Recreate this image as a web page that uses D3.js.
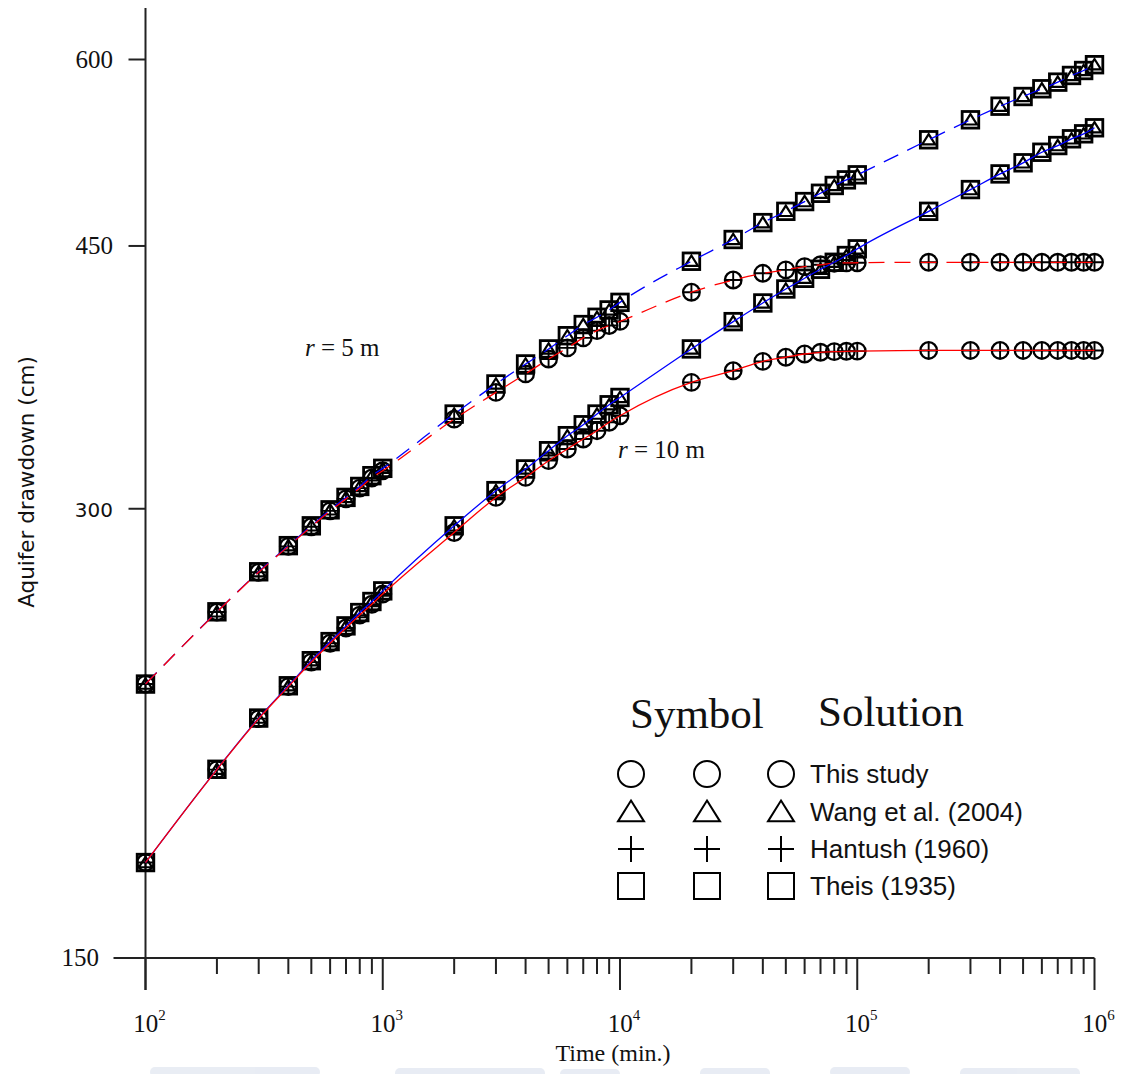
<!DOCTYPE html>
<html>
<head>
<meta charset="utf-8">
<script src="https://cdn.jsdelivr.net/npm/d3@7"></script>
<style>
  html, body { margin: 0; padding: 0; background: #fff; }
  svg { display: block; }
</style>
</head>
<body>
<svg id="chart" width="1123" height="1074"></svg>
<script>
// ---------------- DATA ----------------
const times = [100,200,300,400,500,600,700,800,900,1000,
  2000,3000,4000,5000,6000,7000,8000,9000,10000,
  20000,30000,40000,50000,60000,70000,80000,90000,100000,
  200000,300000,400000,500000,600000,700000,800000,900000,1000000];

// r = 5 m
const theisR5 = [228.9,255.9,272.2,283.4,292.2,299.5,305.3,310.5,315.7,319.3,
  347.2,363.7,375.1,383.9,391.8,398.6,403.1,407.7,412.5,
  439.5,454.5,466.5,474.7,481.9,488.1,494.0,498.3,502.2,
  530.1,546.7,558.3,566.7,573.5,579.4,585.4,589.9,595.2];
const wangR5 = [228.9,255.9,272.2,283.4,292.2,299.5,305.3,310.5,315.7,319.3,
  347.2,363.7,375.1,383.9,391.8,398.6,403.1,407.7,412.5,
  439.5,454.5,466.5,474.7,481.9,488.1,494.0,498.3,502.2,
  530.1,546.7,558.3,566.7,573.5,579.4,585.4,589.9,595.2];
const thisStudyR5 = [228.9,255.8,272.0,283.1,291.8,299.0,304.6,309.7,314.6,318.1,
  344.5,359.0,369.4,378.0,384.5,390.5,394.9,398.0,400.6,
  419.0,427.0,431.4,433.7,435.9,437.1,438.2,438.4,438.5,
  438.8,438.8,438.8,438.8,438.8,438.8,438.8,438.8,438.8];
const hantushR5 = [228.9,255.8,272.0,283.1,291.8,299.0,304.6,309.7,314.6,318.1,
  344.5,359.0,369.4,378.0,384.5,390.5,394.9,398.0,400.6,
  419.0,427.0,431.4,433.7,435.9,437.1,438.2,438.4,438.5,
  438.8,438.8,438.8,438.8,438.8,438.8,438.8,438.8,438.8];

// r = 10 m
const theisR10 = [173.8,200.7,217.2,228.3,237.3,244.4,250.4,255.6,260.0,264.3,
  292.2,308.5,319.0,328.1,335.8,341.5,347.2,352.2,356.2,
  383.9,400.4,412.1,421.1,428.1,434.1,438.8,443.4,448.0,
  474.7,490.9,502.9,511.6,520.0,525.4,530.9,535.0,540.0];
const wangR10 = [173.8,200.7,217.2,228.3,237.3,244.4,250.4,255.6,260.0,264.3,
  292.2,308.5,319.0,328.1,335.8,341.5,347.2,352.2,356.2,
  383.9,400.4,412.1,421.1,428.1,434.1,438.8,443.4,448.0,
  474.7,490.9,502.9,511.6,520.0,525.4,530.9,535.0,540.0];
const thisStudyR10 = [173.8,200.6,217.0,228.0,236.8,243.8,249.6,254.6,258.9,263.0,
  289.2,305.3,314.9,323.1,329.0,334.1,338.4,342.8,346.3,
  364.6,371.2,376.6,379.0,380.9,381.9,382.3,382.5,382.6,
  383.0,383.0,383.0,383.0,383.0,383.0,383.0,383.0,383.0];
const hantushR10 = [173.8,200.6,217.0,228.0,236.8,243.8,249.6,254.6,258.9,263.0,
  289.2,305.3,314.9,323.1,329.0,334.1,338.4,342.8,346.3,
  364.6,371.2,376.6,379.0,380.9,381.9,382.3,382.5,382.6,
  383.0,383.0,383.0,383.0,383.0,383.0,383.0,383.0,383.0];

const yTicks = [150, 300, 450, 600];
const xMajorTicks = [100, 1000, 10000, 100000, 1000000];
const xMinorTicks = [200,300,400,500,600,700,800,900,
  2000,3000,4000,5000,6000,7000,8000,9000,
  20000,30000,40000,50000,60000,70000,80000,90000,
  200000,300000,400000,500000,600000,700000,800000,900000];
const legendNames = ["This study", "Wang et al. (2004)", "Hantush (1960)", "Theis (1935)"];
const legendShapes = ["circle", "triangle", "plus", "square"];

// ---------------- LAYOUT ----------------
const svg = d3.select("#chart");
const X0 = 145.5, X1 = 1094.5, Y0 = 958, Y1 = 59.5;
const x = d3.scaleLog().domain([100, 1e6]).range([X0, X1]);
const y = d3.scaleLog().domain([150, 600]).range([Y0, Y1]);
const serif = "'Liberation Serif','Times New Roman',serif";
const sans = "'Liberation Sans',Arial,sans-serif";
const ink = "#111";

// faint watermark band at the very bottom (scan artifact)
const wm = svg.append("g").attr("fill", "#d3dbea").attr("opacity", 0.5);
[[150,1067,170],[395,1068,150],[560,1069,60],[700,1068,70],[830,1067,80],[960,1068,120]]
  .forEach(([a,b,w]) => wm.append("rect").attr("x", a).attr("y", b).attr("width", w).attr("height", 10).attr("rx", 5));

// ---------------- AXES ----------------
const ax = svg.append("g").attr("stroke", "#222").attr("stroke-width", 2).attr("fill", "none");
ax.append("line").attr("x1", X0).attr("x2", X0).attr("y1", 8).attr("y2", Y0 + 32);
ax.append("line").attr("x1", X0 - 32).attr("x2", X1).attr("y1", Y0).attr("y2", Y0);
yTicks.filter(v => v !== 150).forEach(v => {
  ax.append("line").attr("x1", X0 - 17).attr("x2", X0).attr("y1", y(v)).attr("y2", y(v));
});
xMajorTicks.forEach(v => {
  ax.append("line").attr("x1", x(v)).attr("x2", x(v)).attr("y1", Y0).attr("y2", Y0 + 32);
});
xMinorTicks.forEach(v => {
  ax.append("line").attr("x1", x(v)).attr("x2", x(v)).attr("y1", Y0).attr("y2", Y0 + 16);
});

// y tick labels
yTicks.forEach(v => {
  svg.append("text").attr("x", v === 150 ? 99 : 113).attr("y", y(v) + 8)
    .attr("text-anchor", "end")
    .attr("font-family", v === 300 ? "'DejaVu Sans',sans-serif" : serif)
    .attr("font-size", v === 300 ? 20 : 25)
    .attr("fill", ink).text(v);
});
// x tick labels 10^n
xMajorTicks.forEach(v => {
  const e = Math.round(Math.log10(v));
  const t = svg.append("text").attr("x", x(v) + 4).attr("y", 1032)
    .attr("text-anchor", "middle").attr("font-family", serif)
    .attr("font-size", 25).attr("fill", ink);
  t.append("tspan").text("10");
  t.append("tspan").attr("font-size", 15).attr("dy", -12).text(e);
});

// axis titles
svg.append("text").attr("x", 613).attr("y", 1061).attr("text-anchor", "middle")
  .attr("font-family", serif).attr("font-size", 24).attr("fill", ink).text("Time (min.)");
svg.append("text").attr("transform", "translate(34,482) rotate(-90)")
  .attr("text-anchor", "middle").attr("font-family", "'DejaVu Sans',sans-serif")
  .attr("font-size", 21.5).attr("fill", ink).text("Aquifer drawdown (cm)");

// r labels
function rLabel(px, py, val) {
  const t = svg.append("text").attr("x", px).attr("y", py)
    .attr("font-family", serif).attr("font-size", 25).attr("fill", ink);
  t.append("tspan").attr("font-style", "italic").text("r");
  t.append("tspan").text(" = " + val + " m");
}
rLabel(305, 356, 5);
rLabel(618, 458, 10);

// ---------------- MARKERS ----------------
function drawShape(g, shape, cx, cy, s) {
  if (shape === "circle") {
    g.append("circle").attr("cx", cx).attr("cy", cy).attr("r", s);
  } else if (shape === "square") {
    g.append("rect").attr("x", cx - s).attr("y", cy - s).attr("width", 2 * s).attr("height", 2 * s);
  } else if (shape === "plus") {
    g.append("path").attr("d", `M${cx - s},${cy}H${cx + s}M${cx},${cy - s}V${cy + s}`);
  } else if (shape === "triangle") {
    const h = s * 1.6;
    g.append("path").attr("d", `M${cx},${cy - h * 0.55}L${cx + s},${cy + h * 0.45}L${cx - s},${cy + h * 0.45}Z`);
  }
}

const mk = svg.append("g").attr("fill", "none").attr("stroke", "#000");
function markers(vals, shape, half, sw) {
  const g = mk.append("g").attr("stroke-width", sw);
  times.forEach((t, i) => drawShape(g, shape, x(t), y(vals[i]), half));
}
markers(theisR10, "square", 8.3, 2.8);
markers(wangR10, "triangle", 6.5, 2.2);
markers(thisStudyR10, "circle", 8.3, 2.3);
markers(hantushR10, "plus", 8.3, 1.9);
markers(theisR5, "square", 8.3, 2.8);
markers(wangR5, "triangle", 6.5, 2.2);
markers(thisStudyR5, "circle", 8.3, 2.3);
markers(hantushR5, "plus", 8.3, 1.9);

// ---------------- LINES ----------------
const line = d3.line().x((d, i) => x(times[i])).y(d => y(d)).curve(d3.curveMonotoneX);
const lg = svg.append("g").attr("fill", "none").attr("stroke-width", 1.3);
lg.append("path").attr("d", line(theisR5)).attr("stroke", "#0000ff").attr("stroke-dasharray", "16,10");
lg.append("path").attr("d", line(thisStudyR5)).attr("stroke", "#ff0000").attr("stroke-dasharray", "16,10");
lg.append("path").attr("d", line(theisR10)).attr("stroke", "#0000ff");
lg.append("path").attr("d", line(thisStudyR10)).attr("stroke", "#ff0000");

// ---------------- LEGEND ----------------
svg.append("text").attr("x", 630).attr("y", 728).attr("font-family", serif)
  .attr("font-size", 43).attr("fill", ink).text("Symbol");
svg.append("text").attr("x", 818).attr("y", 726).attr("font-family", serif)
  .attr("font-size", 43).attr("fill", ink).text("Solution");
const legRowY = [774, 812, 849, 886];
const legColX = [631, 707, 781];
const lgd = svg.append("g").attr("fill", "none").attr("stroke", "#000").attr("stroke-width", 2);
legendShapes.forEach((shape, r) => {
  legColX.forEach(cx => drawShape(lgd, shape, cx, legRowY[r], 13));
  svg.append("text").attr("x", 810).attr("y", legRowY[r] + 9)
    .attr("font-family", sans).attr("font-size", 26).attr("fill", ink).text(legendNames[r]);
});
</script>
</body>
</html>
